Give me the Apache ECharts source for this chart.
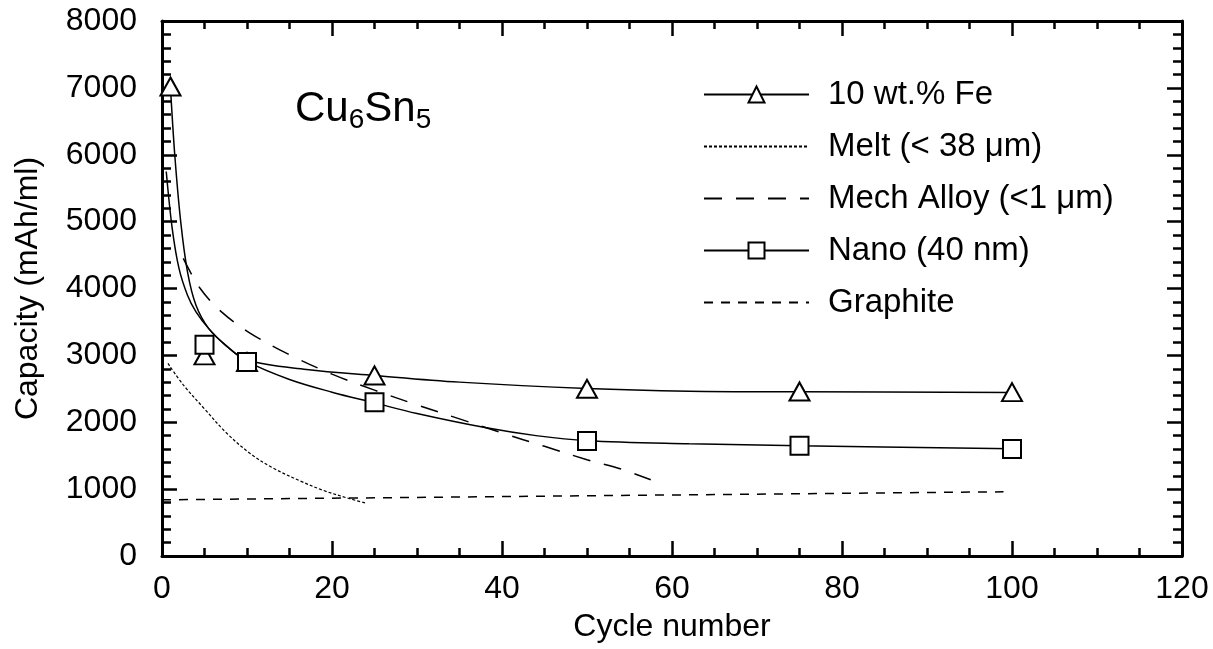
<!DOCTYPE html>
<html>
<head>
<meta charset="utf-8">
<title>Cu6Sn5 capacity vs cycle number</title>
<script src="https://cdn.jsdelivr.net/npm/echarts@6/dist/echarts.min.js"></script>
<style>
  html, body { margin: 0; padding: 0; background: #fff; }
  #chart { width: 1213px; height: 649px; }
</style>
</head>
<body>
<div id="chart"></div>
<script>
// ---- data ----
var xTicks = [0, 20, 40, 60, 80, 100, 120];
var yTicks = [0, 1000, 2000, 3000, 4000, 5000, 6000, 7000, 8000];

// smooth fitted curves [cycle, capacity]
var feCurve = [[1, 7000], [1.5, 6000], [2.2, 5000], [3, 4250], [4, 3750], [5.5, 3400], [7.5, 3150],
  [10, 2930], [17, 2790], [25, 2700], [35, 2600], [50, 2505], [62, 2465], [75, 2455], [100, 2445]];
var nanoCurve = [[0.5, 5750], [1.2, 4900], [2, 4300], [3, 3900], [4, 3650], [5.5, 3400], [7.5, 3150],
  [10, 2910], [15, 2640], [20, 2450], [25, 2290], [30, 2130], [38, 1920], [44, 1800], [50, 1725],
  [62, 1680], [75, 1650], [100, 1605]];
var meltCurve = [[0.7, 2880], [2.5, 2560], [5, 2200], [7.5, 1850], [10.4, 1530], [13, 1320], [16.3, 1120],
  [19, 980], [22, 860], [24, 790]];
var mechCurve = [[2.5, 4450], [4.5, 4000], [7, 3650], [10.4, 3330], [15, 3010], [20, 2720], [25, 2480],
  [30, 2260], [35, 2050], [40, 1840], [45, 1640], [50, 1440], [54, 1300], [57.5, 1140]];
var graphiteLine = [[0, 840], [99, 960]];

// measured points
var feMarks = [[1, 7020], [5, 3000], [10, 2900], [25, 2700], [50, 2500], [75, 2460], [100, 2450]];
var nanoMarks = [[5, 3160], [10, 2900], [25, 2300], [50, 1720], [75, 1650], [100, 1600]];

var names = ['10 wt.% Fe', 'Melt (< 38 \u03bcm)', 'Mech Alloy (<1 \u03bcm)', 'Nano (40 nm)', 'Graphite'];

(function() {
  var font = '"Liberation Sans", Arial, Helvetica, sans-serif';
  var ink = '#000';
  var clear = 'rgba(0,0,0,0)';

  function xAx(pos, showLabel) {
    return {
      type: 'value', position: pos, min: xTicks[0], max: xTicks[xTicks.length - 1], interval: 20,
      name: showLabel ? 'Cycle number' : '', nameLocation: 'middle', nameGap: 55,
      nameTextStyle: { color: ink, fontSize: 32, fontFamily: font },
      axisLine: { show: true, onZero: false, lineStyle: { color: ink, width: 3 } },
      axisTick: { show: true, inside: true, length: 15, lineStyle: { color: ink, width: 2.5 } },
      minorTick: { show: true, splitNumber: 4, length: 8, lineStyle: { color: ink, width: 2.5 } },
      axisLabel: { show: showLabel, color: ink, fontSize: 32, fontFamily: font, margin: 17,
        formatter: function(v) { return String(v); } },
      splitLine: { show: false }
    };
  }
  function yAx(pos, showLabel) {
    return {
      type: 'value', position: pos, min: yTicks[0], max: yTicks[yTicks.length - 1], interval: 1000,
      name: showLabel ? 'Capacity (mAh/ml)' : '', nameLocation: 'middle', nameGap: 118,
      nameTextStyle: { color: ink, fontSize: 32, fontFamily: font },
      axisLine: { show: true, onZero: false, lineStyle: { color: ink, width: 3 } },
      axisTick: { show: true, inside: true, length: 15, lineStyle: { color: ink, width: 2.5 } },
      minorTick: { show: true, splitNumber: 5, length: 9, lineStyle: { color: ink, width: 2.5 } },
      axisLabel: { show: showLabel, color: ink, fontSize: 32, fontFamily: font, margin: 25,
        formatter: function(v) { return String(v); } },
      splitLine: { show: false }
    };
  }

  var chart = echarts.init(document.getElementById('chart'), null, { renderer: 'canvas' });
  chart.setOption({
    animation: false,
    backgroundColor: '#fff',
    grid: { left: 162, right: 31, top: 21, bottom: 93, containLabel: false },
    xAxis: [xAx('bottom', true), xAx('top', false)],
    yAxis: [yAx('left', true), yAx('right', false)],
    legend: {
      data: names,
      orient: 'vertical',
      left: 698,
      top: 73,
      itemWidth: 105,
      itemHeight: 20,
      itemGap: 19,
      textStyle: { color: ink, fontSize: 33, fontFamily: font, padding: [0, 0, 0, 14] },
      selectedMode: false
    },
    graphic: [{
      type: 'text', left: 295, top: 88,
      style: {
        text: '{a|Cu}{s|6}{a|Sn}{s|5}',
        rich: {
          a: { fontSize: 42, fontFamily: font, fill: ink, lineHeight: 50 },
          s: { fontSize: 28, fontFamily: font, fill: ink, lineHeight: 22, verticalAlign: 'bottom' }
        }
      }
    }],
    series: [
      {
        name: names[0], type: 'line', data: feCurve, smooth: 0.35,
        symbol: 'triangle', symbolSize: [20, 18], showSymbol: false,
        lineStyle: { color: ink, width: 1.5 },
        itemStyle: { color: '#fff', borderColor: ink, borderWidth: 2 }
      },
      {
        name: names[1], type: 'line', data: meltCurve, smooth: 0.35, symbol: 'none',
        lineStyle: { color: ink, width: 1.2, type: [3, 2] },
        itemStyle: { color: clear, borderColor: clear }
      },
      {
        name: names[2], type: 'line', data: mechCurve, smooth: 0.35, symbol: 'none',
        lineStyle: { color: ink, width: 1.5, type: [18, 14] },
        itemStyle: { color: clear, borderColor: clear }
      },
      {
        name: names[3], type: 'line', data: nanoCurve, smooth: 0.35,
        symbol: 'rect', symbolSize: 18, showSymbol: false,
        lineStyle: { color: ink, width: 1.5 },
        itemStyle: { color: '#fff', borderColor: ink, borderWidth: 2 }
      },
      {
        name: names[4], type: 'line', data: graphiteLine, symbol: 'none',
        lineStyle: { color: ink, width: 1.5, type: [9, 8] },
        itemStyle: { color: clear, borderColor: clear }
      },
      {
        type: 'scatter', data: feMarks, symbol: 'triangle', symbolSize: [20, 18], z: 5,
        itemStyle: { color: '#fff', borderColor: ink, borderWidth: 2, opacity: 1 }
      },
      {
        type: 'scatter', data: nanoMarks, symbol: 'rect', symbolSize: 18, z: 5,
        itemStyle: { color: '#fff', borderColor: ink, borderWidth: 2, opacity: 1 }
      }
    ]
  });
  window.addEventListener('resize', function() { chart.resize(); });
})();
</script>
</body>
</html>
